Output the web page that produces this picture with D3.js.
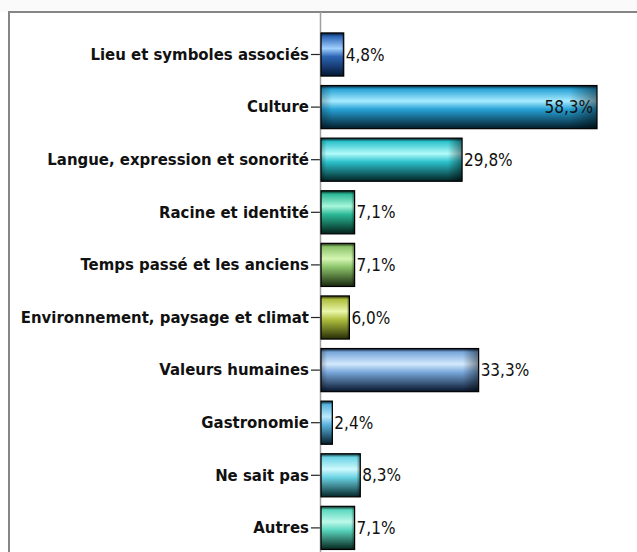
<!DOCTYPE html>
<html>
<head>
<meta charset="utf-8">
<script src="https://cdn.jsdelivr.net/npm/d3@7"></script>
<style>
  html, body { margin: 0; padding: 0; background: #ffffff; }
  svg { display: block; }
</style>
</head>
<body>
<svg id="chart" width="637" height="552"></svg>
<script>
// Categories, top to bottom
const categories = [
  "Lieu et symboles associés",
  "Culture",
  "Langue, expression et sonorité",
  "Racine et identité",
  "Temps passé et les anciens",
  "Environnement, paysage et climat",
  "Valeurs humaines",
  "Gastronomie",
  "Ne sait pas",
  "Autres"
];

// Share of answers (%)
const values = [4.8, 58.3, 29.8, 7.1, 7.1, 6.0, 33.3, 2.4, 8.3, 7.1];

// Printed labels
const valueLabels = ["4,8%", "58,3%", "29,8%", "7,1%", "7,1%", "6,0%", "33,3%", "2,4%", "8,3%", "7,1%"];

// Bar colours: base, highlight, shadow
const baseColors  = ["#2c64b4", "#27a2d6", "#2cc2cb", "#2bb996", "#8cc46a", "#aebe3e", "#78a7db", "#57b3df", "#6ad3e3", "#5bd7bf"];
const lightColors = ["#a0d0ff", "#a9ecff", "#b2fbfb", "#a8f6da", "#d4f6b2", "#eaf6aa", "#d4eafd", "#bdeafd", "#cdf9fd", "#bdf9ea"];
const darkColors  = ["#041633", "#021c29", "#022224", "#02201a", "#18260e", "#262c06", "#08152b", "#051c2a", "#062629", "#05251d"];

const svg = d3.select("#chart");
const W = 637, H = 552;

const x = d3.scaleLinear().domain([0, 58.3]).range([321, 597]);
const y = d3.scaleBand().domain(categories).range([28.2, 554.2])
  .paddingInner(0.18).paddingOuter(0.09);

const defs = svg.append("defs");

// Vertical cylinder shading, one per bar colour
categories.forEach((c, i) => {
  const g = defs.append("linearGradient")
    .attr("id", "bar" + i)
    .attr("x1", 0).attr("y1", 0).attr("x2", 0).attr("y2", 1);
  [
    [0.00, darkColors[i]],
    [0.08, baseColors[i]],
    [0.36, lightColors[i]],
    [0.55, baseColors[i]],
    [0.80, d3.interpolateRgb(baseColors[i], darkColors[i])(0.55)],
    [1.00, darkColors[i]]
  ].forEach(([o, col]) => g.append("stop").attr("offset", o).attr("stop-color", col));
});

// Darkened ends of each bar
const ends = defs.append("linearGradient")
  .attr("id", "ends").attr("x1", 0).attr("y1", 0).attr("x2", 1).attr("y2", 0);
[[0, 0.25], [0.04, 0], [0.9, 0], [1, 0.45]].forEach(([o, a]) =>
  ends.append("stop").attr("offset", o).attr("stop-color", "#000").attr("stop-opacity", a));

// Frame
svg.append("rect").attr("x", 0).attr("y", 0).attr("width", W).attr("height", 12).attr("fill", "#fafafa");
svg.append("path")
  .attr("d", `M9,${H} V12 H${W}`)
  .attr("fill", "none").attr("stroke", "#858585").attr("stroke-width", 2);

// Category axis
const axis = svg.append("g")
  .attr("transform", "translate(320,0)")
  .call(d3.axisLeft(y).tickSize(9).tickSizeOuter(0).tickPadding(2));
axis.select(".domain").remove();
axis.selectAll(".tick line").attr("stroke", "#222").attr("stroke-width", 1.2);
axis.selectAll(".tick text")
  .attr("fill", "#111")
  .style("font-family", "'DejaVu Sans Condensed', 'DejaVu Sans', sans-serif")
  .style("font-weight", "bold")
  .style("font-size", "16.6px");

svg.append("line")
  .attr("x1", 320.5).attr("x2", 320.5).attr("y1", 12).attr("y2", H)
  .attr("stroke", "#a0a0a0").attr("stroke-width", 1.5);

// Bars
const rows = svg.append("g").selectAll("g").data(categories).join("g");

rows.append("rect")
  .attr("x", x(0))
  .attr("y", d => y(d))
  .attr("width", (d, i) => x(values[i]) - x(0))
  .attr("height", y.bandwidth())
  .attr("fill", (d, i) => `url(#bar${i})`);

rows.append("rect")
  .attr("x", x(0))
  .attr("y", d => y(d))
  .attr("width", (d, i) => x(values[i]) - x(0))
  .attr("height", y.bandwidth())
  .attr("fill", "url(#ends)")
  .attr("stroke", "#000")
  .attr("stroke-width", 1.2);

// Value labels: outside the bar, or inside when the bar reaches the right edge
rows.append("text")
  .attr("x", (d, i) => values[i] > 50 ? x(values[i]) - 4 : x(values[i]) + 2)
  .attr("y", d => y(d) + y.bandwidth() / 2)
  .attr("dy", "0.36em")
  .attr("text-anchor", (d, i) => values[i] > 50 ? "end" : "start")
  .attr("fill", "#111")
  .style("font-family", "'DejaVu Sans Condensed', 'DejaVu Sans', sans-serif")
  .style("font-size", "17px")
  .text((d, i) => valueLabels[i]);
</script>
</body>
</html>
